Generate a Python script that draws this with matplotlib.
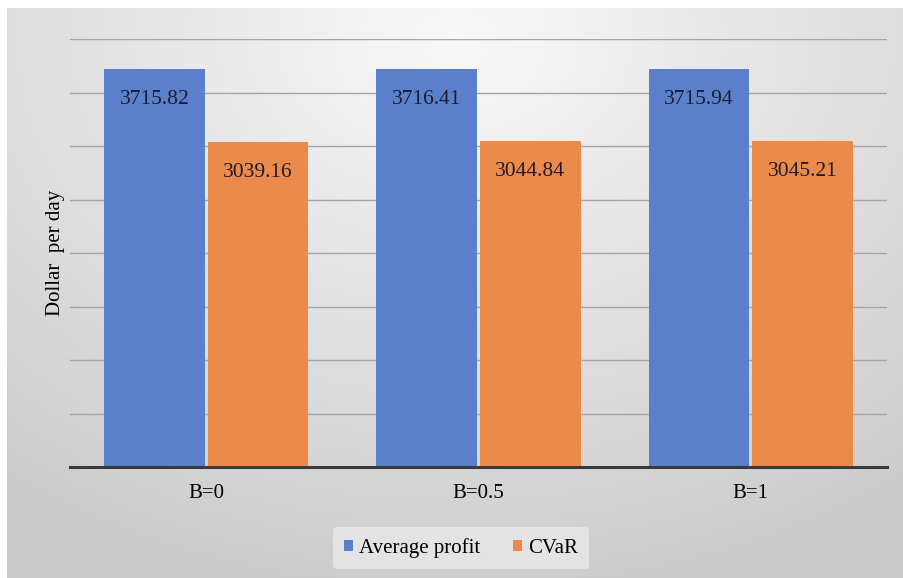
import numpy as np
import matplotlib
matplotlib.use('Agg')
import matplotlib.pyplot as plt

plt.rcParams['font.family'] = ['Liberation Serif', 'DejaVu Serif']

categories = ['B=0', 'B=0.5', 'B=1']
avg_profit = [3715.82, 3716.41, 3715.94]
cvar = [3039.16, 3044.84, 3045.21]
series_names = ['Average profit', 'CVaR']

blue = '#5a80cb'
orange = '#ec8a4b'

fig = plt.figure(figsize=(9.04, 5.78), dpi=100)
fig.patch.set_facecolor('white')

# gray radial gradient backdrop, like the exported Excel chart area
bg = fig.add_axes([7/904, 0, 897/904, 570/578], zorder=-10)
yy, xx = np.mgrid[0:1:200j, 0:1:300j]
r = np.sqrt(((xx - 0.5) / 0.75) ** 2 + ((yy - 0.05) / 0.9) ** 2)
shade = np.clip(0.975 - 0.16 * r, 0.80, 0.975)
bg.imshow(np.dstack([shade] * 3), aspect='auto', extent=[0, 1, 1, 0])
bg.set_axis_off()

ax = fig.add_axes([70/904, 1 - 467/578, 817/904, 428/578])
ax.set_facecolor('none')

x = np.arange(len(categories))
w = 0.37
off = 0.19
b1 = ax.bar(x - off, avg_profit, w, color=blue, label=series_names[0], zorder=3)
b2 = ax.bar(x + off, cvar, w, color=orange, label=series_names[1], zorder=3)

for bars, vals in [(b1, avg_profit), (b2, cvar)]:
    for rect, v in zip(bars, vals):
        ax.annotate(f'{v:.2f}', xy=(rect.get_x() + rect.get_width() / 2, v),
                    xytext=(0, -22), textcoords='offset points',
                    ha='center', va='center', fontsize=15.5, color='#1c1c2c', zorder=4)

ax.set_xlim(-0.5, 2.5)
ax.set_ylim(0, 4000)
ax.set_yticks(np.arange(0, 4001, 500))
ax.set_yticklabels([])
ax.tick_params(axis='y', length=0)
ax.tick_params(axis='x', length=0, labelsize=15, pad=12)
ax.set_xticks(x)
ax.set_xticklabels(categories)
ax.grid(axis='y', color='#a5a5a5', linewidth=1, zorder=0)
for s in ['top', 'right', 'left']:
    ax.spines[s].set_visible(False)
ax.spines['bottom'].set_color('#3a3a3a')
ax.spines['bottom'].set_linewidth(2.2)
ax.spines['bottom'].set_zorder(5)

ax.set_ylabel('Dollar  per day', fontsize=15)
ax.yaxis.set_label_coords(-5/817, 0.5)

leg = fig.legend(handles=[b1, b2], loc='center', bbox_to_anchor=(461/904, 1 - 548/578),
                 ncol=2, frameon=True, fontsize=15, handlelength=0.4, handleheight=0.4,
                 handletextpad=0.3, columnspacing=1.6, borderpad=0.55)
leg.get_frame().set_facecolor('#e6e6e6')
leg.get_frame().set_edgecolor('none')
leg.get_frame().set_alpha(0.9)

fig.savefig('out.png', dpi=100)
